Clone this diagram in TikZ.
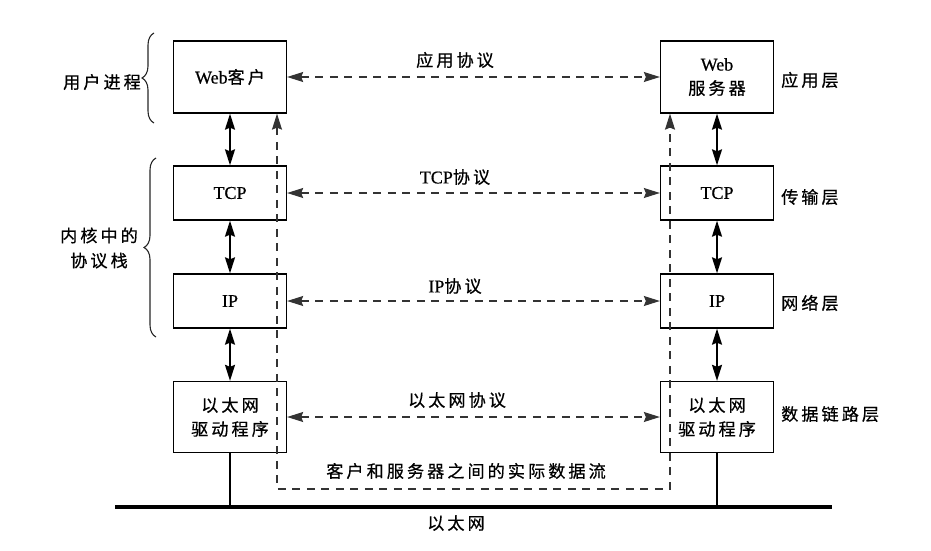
\documentclass[tikz,border=0pt]{standalone}
\usepackage{fontspec}
\setmainfont{Liberation Serif}[FakeBold=0.6]
\newfontfamily\cjk{Noto Sans CJK SC}[Scale=0.95,LetterSpace=18,FakeBold=0.6]
\usetikzlibrary{arrows.meta,decorations.pathreplacing}

\tikzset{
  tip/.tip={Stealth[length=16pt,width=10pt,inset=2pt]},
  layer/.style={draw, line width=1.3pt, minimum width=113pt, inner sep=0pt,
    align=center, font=\fontsize{18}{24}\selectfont},
  stack/.style={line width=1.8pt, tip-tip},
  peer/.style={line width=1.1pt, black!80, dash pattern=on 8pt off 6.5pt, tip-tip},
  flow/.style={line width=1.1pt, black!80, dash pattern=on 8pt off 6.5pt},
  txt/.style={inner sep=0pt, align=center, font=\fontsize{18}{25}\selectfont},
  bracket/.style={line width=1.1pt, black!85,
    decorate, decoration={brace, amplitude=12pt, aspect=0.5}},
  wire/.style={line width=3.8pt},
  drop/.style={line width=1.3pt}
}

\begin{document}
\begin{tikzpicture}[x=1pt, y=-1pt]
  \useasboundingbox (0,0) rectangle (931,551);

  % protocol layers of the client (left) and the server (right)
  \node[layer, minimum height=72pt] (wc) at (230,77)  {Web{\cjk 客户}};
  \node[layer, minimum height=54pt] (tc) at (230,193) {TCP};
  \node[layer, minimum height=54pt] (ic) at (230,301) {IP};
  \node[layer, minimum height=71pt] (dc) at (230,417) {{\cjk 以太网}\\{\cjk 驱动程序}};

  \node[layer, minimum height=72pt] (ws) at (717,77)  {Web\\{\cjk 服务器}};
  \node[layer, minimum height=54pt] (ts) at (717,193) {TCP};
  \node[layer, minimum height=54pt] (is) at (717,301) {IP};
  \node[layer, minimum height=71pt] (ds) at (717,417) {{\cjk 以太网}\\{\cjk 驱动程序}};

  % calls between adjacent layers
  \draw[stack] (wc) -- (tc);
  \draw[stack] (tc) -- (ic);
  \draw[stack] (ic) -- (dc);
  \draw[stack] (ws) -- (ts);
  \draw[stack] (ts) -- (is);
  \draw[stack] (is) -- (ds);

  % peer protocols
  \draw[peer] (wc.east) -- (ws.west);
  \draw[peer] (tc.east) -- (ts.west);
  \draw[peer] (ic.east) -- (is.west);
  \draw[peer] (dc.east) -- (ds.west);

  \node[txt] (papp) at (455,60)  {\cjk 应用协议};
  \node[txt] (ptcp) at (455,177) {TCP{\cjk 协议}};
  \node[txt] (pip)  at (455,286) {IP{\cjk 协议}};
  \node[txt] (peth) at (457,400) {\cjk 以太网协议};

  % actual data flow between client and server
  \coordinate (fl) at (277,489);
  \coordinate (fr) at (670,489);
  \draw[flow, tip-tip] (fl |- wc.south) -- (fl) -- (fr) -- (fr |- ws.south);
  \node[txt] (pflow) at (466,471) {\cjk 客户和服务器之间的实际数据流};

  % the Ethernet cable
  \coordinate (e1) at (115,507);
  \coordinate (e2) at (832,507);
  \draw[wire] (e1) -- (e2);
  \draw[drop] (dc.south) -- (dc.south |- e1);
  \draw[drop] (ds.south) -- (ds.south |- e2);
  \node[txt] (peth2) at (456,523) {\cjk 以太网};

  % layer names
  \node[txt, anchor=west] (lapp) at (781,80)  {\cjk 应用层};
  \node[txt, anchor=west] (ltr)  at (781,197) {\cjk 传输层};
  \node[txt, anchor=west] (lnet) at (781,303) {\cjk 网络层};
  \node[txt, anchor=west] (llnk) at (781,414) {\cjk 数据链路层};

  % grouping on the left
  \coordinate (b1a) at (154,123);
  \coordinate (b1b) at (154,33);
  \coordinate (b2a) at (156,337);
  \coordinate (b2b) at (156,158);
  \draw[bracket] (b1a) -- (b1b);
  \draw[bracket] (b2a) -- (b2b);
  \node[txt, anchor=east] (lusr) at (141,82) {\cjk 用户进程};
  \node[txt] (lker) at (99,248) {{\cjk 内核中的}\\{\cjk 协议栈}};
\end{tikzpicture}
\end{document}
